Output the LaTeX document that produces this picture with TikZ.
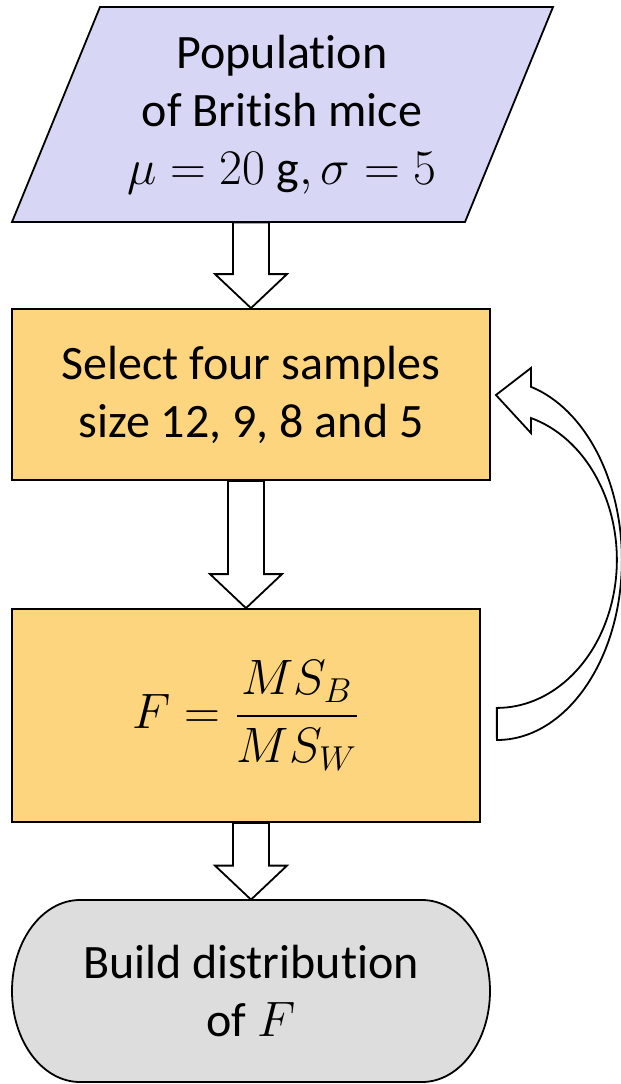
\documentclass[tikz,border=0pt]{standalone}
\usepackage{amsmath}
\usepackage{fontspec}
\setmainfont{Carlito}[Ligatures=NoCommon]
\usetikzlibrary{calc}

\definecolor{popblue}{RGB}{215,215,245}
\definecolor{stepgold}{RGB}{253,213,127}
\definecolor{endgrey}{RGB}{221,221,221}

\tikzset{
  boxtext/.style={align=center, font=\fontsize{24}{29}\selectfont, inner sep=0pt},
  stepbox/.style={boxtext, draw, line width=0.9pt, fill=stepgold},
  fatarrow/.style={draw, fill=white, line width=0.9pt, line join=miter},
}

\newcommand{\fatdown}[2]{%
  \draw[fatarrow] let \p1=(#1), \p2=(#2) in
    (\x2-9pt,\y1) -- (\x2-9pt,\y2+17pt) -- (\x2-18pt,\y2+17pt) -- (\x2,\y2)
    -- (\x2+18pt,\y2+17pt) -- (\x2+9pt,\y2+17pt) -- (\x2+9pt,\y1) -- cycle;}

\begin{document}
\begin{tikzpicture}[x=1pt,y=1pt]
\useasboundingbox (0,0) rectangle (310.5,-542);

\draw[line width=0.9pt, fill=popblue] (50,-3.5) -- (276.5,-3.5) -- (232.5,-111) -- (6,-111) -- cycle;
\node[boxtext, minimum height=107.5pt] (pop) at (141,-57.25) {Population\\of British mice\\$\mu = 20\ \mathrm{g}, \sigma = 5$};

\node[stepbox, minimum width=239pt, minimum height=85.5pt] (sel) at (125.5,-197.25) {Select four samples\\size 12, 9, 8 and 5};
\node[stepbox, minimum width=234pt, minimum height=106.5pt] (ratio) at (123,-357.75) {$F = \dfrac{MS_B}{MS_W}$};

\draw[line width=0.9pt, fill=endgrey] (40,-450) -- (211,-450)
  arc[start angle=90, end angle=-90, x radius=34, y radius=45.5] -- (40,-541)
  arc[start angle=270, end angle=90, x radius=34, y radius=45.5] -- cycle;
\node[boxtext, minimum width=239pt, minimum height=91pt] (build) at (125.5,-495.5) {Build distribution\\of $F$};

\foreach \a/\b in {pop/sel, sel/ratio, ratio/build} {
  \fatdown{\a.south}{\b.north}
}

\draw[fatarrow] ([shift={(8,-12.25)}]ratio.east)
  arc[start angle=-90, end angle=74.2, x radius=62.5, y radius=90]
  -- ++(0,9.4) -- ++(-17.5,-13.5) -- ++(17.5,-19) -- ++(0,7.5)
  arc[start angle=73.5, end angle=-90, x radius=60, y radius=74] -- cycle;

\end{tikzpicture}
\end{document}
